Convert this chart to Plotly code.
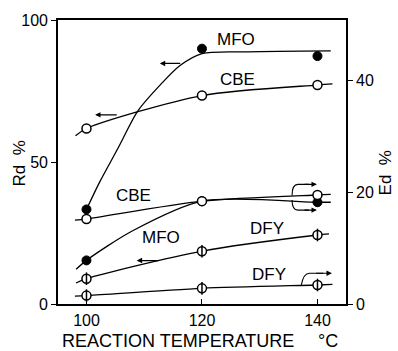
import plotly.graph_objects as go

# ---- data ----
temps = [100, 120, 140]

# Rd % (left axis)
mfo_rd = [33.3, 89.9, 87.3]
cbe_rd = [61.8, 73.4, 77.1]
dfy_rd = [8.9, 18.6, 24.3]

# Ed % (right axis)
mfo_ed = [7.8, 18.4, 18.2]
cbe_ed = [15.2, 18.4, 19.5]
dfy_ed = [1.5, 2.8, 3.4]

# drawn (fitted) curves
mfo_rd_fit_t = [100, 102.3, 105.5, 108.9, 112.7, 116.2, 120, 128, 142.3]
mfo_rd_fit = [33.3, 43, 55, 68, 77, 84, 88.2, 88.8, 89.1]
cbe_rd_fit_t = [98.1, 100, 120, 140, 142.6]
cbe_rd_fit = [59.2, 61.8, 73.4, 77.1, 77.5]
dfy_rd_fit_t = [98.2, 100, 120, 140, 142.0]
dfy_rd_fit = [7.4, 8.9, 18.6, 24.3, 24.7]

mfo_ed_fit_t = [98.2, 100, 108, 120, 140, 142.3]
mfo_ed_fit = [6.2, 7.8, 13.1, 18.4, 18.2, 18.2]
cbe_ed_fit_t = [98.0, 100, 120, 140, 142.3]
cbe_ed_fit = [15.0, 15.2, 18.4, 19.5, 19.6]
dfy_ed_fit_t = [98.0, 100, 120, 140, 142.6]
dfy_ed_fit = [1.4, 1.5, 2.8, 3.4, 3.5]

x_ticks = [100, 120, 140]
rd_ticks = [0, 50, 100]
ed_ticks = [0, 20, 40]

FONT = "Liberation Sans"
LW = 1.3

fig = go.Figure()

def curve(t, v, axis):
    fig.add_trace(go.Scatter(x=t, y=v, mode="lines", yaxis=axis,
                             line=dict(color="black", width=LW, shape="spline", smoothing=0.8),
                             showlegend=False, hoverinfo="skip"))

def pts(t, v, axis, kind):
    if kind == "filled":
        fig.add_trace(go.Scatter(x=t, y=v, mode="markers", yaxis=axis,
                                 marker=dict(symbol="circle", size=9, color="black",
                                             line=dict(color="black", width=1)),
                                 showlegend=False))
    else:
        fig.add_trace(go.Scatter(x=t, y=v, mode="markers", yaxis=axis,
                                 marker=dict(symbol="circle", size=9, color="white",
                                             line=dict(color="black", width=1.5)),
                                 showlegend=False))
        if kind == "bar":
            fig.add_trace(go.Scatter(x=t, y=v, mode="markers", yaxis=axis,
                                     marker=dict(symbol="line-ns-open", size=9, color="black",
                                                 line=dict(color="black", width=1.5)),
                                     showlegend=False))

curve(mfo_rd_fit_t, mfo_rd_fit, "y")
curve(cbe_rd_fit_t, cbe_rd_fit, "y")
curve(dfy_rd_fit_t, dfy_rd_fit, "y")
curve(mfo_ed_fit_t, mfo_ed_fit, "y2")
curve(cbe_ed_fit_t, cbe_ed_fit, "y2")
curve(dfy_ed_fit_t, dfy_ed_fit, "y2")

pts(temps, mfo_rd, "y", "filled")
pts(temps, cbe_rd, "y", "open")
pts(temps, dfy_rd, "y", "bar")
pts(temps, mfo_ed, "y2", "filled")
pts(temps, cbe_ed, "y2", "open")
pts(temps, dfy_ed, "y2", "bar")

ann = []
def label(text, x, y):
    ann.append(dict(text=text, x=x, y=y, xref="x", yref="y", showarrow=False,
                    xanchor="center", yanchor="middle",
                    font=dict(family=FONT, size=17, color="black")))

label("MFO", 125.9, 93.0)
label("CBE", 126.1, 79.1)
label("CBE", 108.1, 38.3)
label("MFO", 112.9, 23.3)
label("DFY", 131.3, 26.5)
label("DFY", 131.6, 10.5)

def arrow(x0, x1, y, yref):
    ann.append(dict(text="", x=x1, y=y, ax=x0, ay=y, xref="x", yref=yref,
                    axref="x", ayref=yref, showarrow=True, arrowhead=2,
                    arrowsize=0.9, arrowwidth=1.2, arrowcolor="black"))

# left-pointing arrows (Rd axis)
arrow(116.5, 112.7, 84.7, "y")
arrow(105.5, 101.5, 66.6, "y")
arrow(112.7, 108.7, 15.3, "y")
# right-pointing arrows (Ed axis)
arrow(137.5, 139.9, 21.4, "y2")
arrow(137.5, 139.9, 16.8, "y2")
arrow(139.5, 142.5, 5.5, "y2")

shapes = []
def bracket(path):
    shapes.append(dict(type="path", path=path, xref="x", yref="y2",
                       line=dict(color="black", width=1.1)))

bracket("M 135.6,19.4 Q 135.6,21.4 136.6,21.4 L 138.5,21.4")
bracket("M 135.6,18.6 Q 135.6,16.8 136.6,16.8 L 138.5,16.8")
bracket("M 137.2,3.4 Q 137.6,5.5 138.6,5.5 L 141.0,5.5")

def paper_text(text, px, py, size, angle=0):
    ann.append(dict(text=text, x=(px - 58) / 288, y=(304 - py) / 287, textangle=angle,
                    xref="paper", yref="paper", showarrow=False,
                    xanchor="center", yanchor="middle",
                    font=dict(family=FONT, size=size, color="black")))

# axis titles
paper_text("REACTION TEMPERATURE", 178, 341, 18)
paper_text("°C", 328, 341, 18)
paper_text("Rd  %", 19, 162, 17, -90)
paper_text("Ed  %", 385, 172, 17, -90)

tickfont = dict(family=FONT, size=16, color="black")
fig.update_layout(
    width=398, height=351,
    margin=dict(l=58, r=52, t=17, b=47),
    paper_bgcolor="white", plot_bgcolor="white",
    showlegend=False,
    annotations=ann, shapes=shapes,
    xaxis=dict(range=[95.07, 144.94], tickvals=x_ticks, ticks="inside", ticklen=5,
               tickwidth=1.3, tickcolor="black", showline=True, linecolor="black",
               linewidth=1.6, mirror=True, showgrid=False, zeroline=False,
               tickfont=tickfont, ticklabelstandoff=1),
    yaxis=dict(range=[0, 100], tickvals=rd_ticks, ticks="outside", ticklen=5,
               tickwidth=1.3, tickcolor="black", showline=True, linecolor="black",
               linewidth=1.6, showgrid=False, zeroline=False, tickfont=tickfont),
    yaxis2=dict(range=[0, 50.8], tickvals=ed_ticks, ticks="outside", ticklen=5,
                tickwidth=1.3, tickcolor="black", showline=True, linecolor="black",
                linewidth=1.6, showgrid=False, zeroline=False, overlaying="y",
                side="right", tickfont=tickfont),
)

fig.write_html("out.html")
